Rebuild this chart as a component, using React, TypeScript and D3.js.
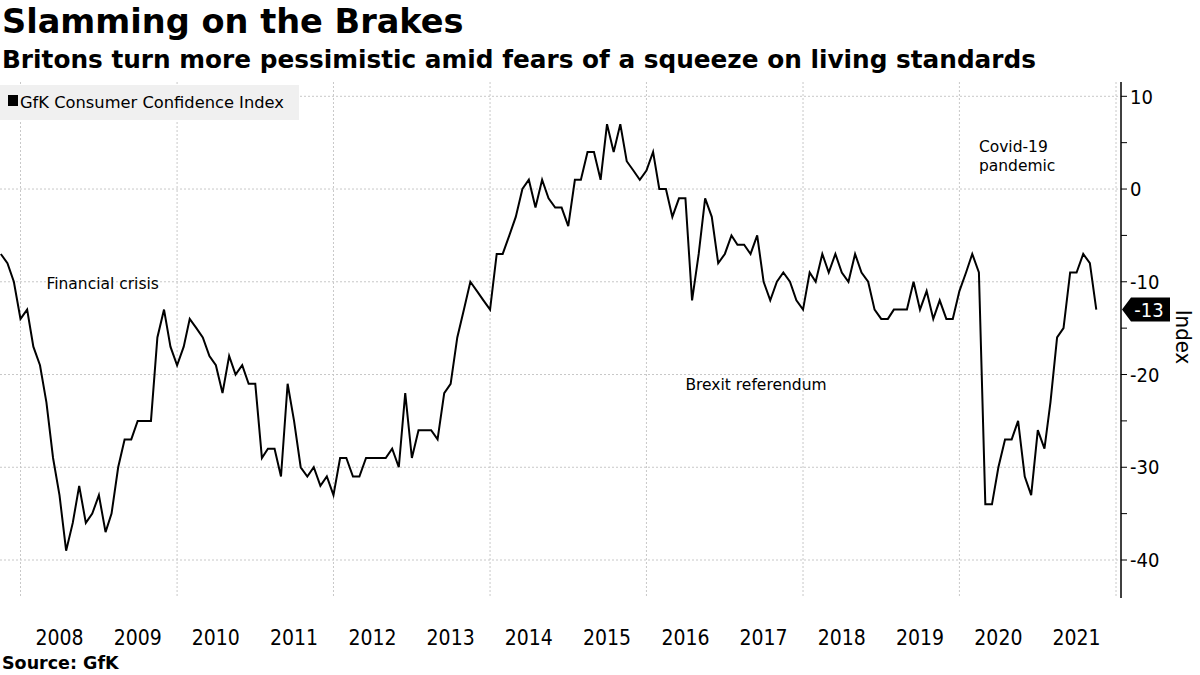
import React from 'react';
import * as d3 from 'd3';

// GfK Consumer Confidence Index, monthly (first value = Sep 2007)
const firstYear = 2007;
const firstMonth = 9; // September
const v2007 = [-7, -8, -10, -14];
const v2008 = [-13, -17, -19, -23, -29, -33, -39, -36, -32, -36, -35, -33];
const v2009 = [-37, -35, -30, -27, -27, -25, -25, -25, -16, -13, -17, -19];
const v2010 = [-17, -14, -15, -16, -18, -19, -22, -18, -20, -19, -21, -21];
const v2011 = [-29, -28, -28, -31, -21, -25, -30, -31, -30, -32, -31, -33];
const v2012 = [-29, -29, -31, -31, -29, -29, -29, -29, -28, -30, -22, -29];
const v2013 = [-26, -26, -26, -27, -22, -21, -16, -13, -10, -11, -12, -13];
const v2014 = [-7, -7, -5, -3, 0, 1, -2, 1, -1, -2, -2, -4];
const v2015 = [1, 1, 4, 4, 1, 7, 4, 7, 3, 2, 1, 2];
const v2016 = [4, 0, 0, -3, -1, -1, -12, -7, -1, -3, -8, -7];
const v2017 = [-5, -6, -6, -7, -5, -10, -12, -10, -9, -10, -12, -13];
const v2018 = [-9, -10, -7, -9, -7, -9, -10, -7, -9, -10, -13, -14];
const v2019 = [-14, -13, -13, -13, -10, -13, -11, -14, -12, -14, -14, -11];
const v2020 = [-9, -7, -9, -34, -34, -30, -27, -27, -25, -31, -33, -26];
const v2021 = [-28, -23, -16, -15, -9, -9, -7, -8, -13];

const allValues = [
  ...v2007, ...v2008, ...v2009, ...v2010, ...v2011, ...v2012, ...v2013,
  ...v2014, ...v2015, ...v2016, ...v2017, ...v2018, ...v2019, ...v2020, ...v2021,
];

const yearLabels = [2008, 2009, 2010, 2011, 2012, 2013, 2014, 2015, 2016, 2017, 2018, 2019, 2020, 2021];
const gridYears = [2008, 2010, 2012, 2014, 2016, 2018, 2020, 2022];
const yTicks = [10, 0, -10, -20, -30, -40];
const yMinorTicks = [5, -5, -15, -25, -35];

const annotations = [
  { text: 'Financial crisis', date: [2008, 4], value: -10.8, lines: ['Financial crisis'] },
  { text: 'Brexit referendum', date: [2016, 6], value: -21.7, lines: ['Brexit referendum'] },
  { text: 'Covid-19 pandemic', date: [2020, 3], value: 4.0, lines: ['Covid-19', 'pandemic'] },
];

const title = 'Slamming on the Brakes';
const subtitle = 'Britons turn more pessimistic amid fears of a squeeze on living standards';
const legendLabel = 'GfK Consumer Confidence Index';
const source = 'Source: GfK';
const axisTitle = 'Index';

const W = 1200;
const H = 675;
const condensed = "'DejaVu Sans Condensed', 'DejaVu Sans', sans-serif";
const regular = "'DejaVu Sans', sans-serif";
const bold = "'DejaVu Sans', sans-serif";

export default function App() {
  // points are plotted at the end of each month
  const data = allValues.map((v, i) => ({
    date: new Date(firstYear, firstMonth - 1 + i + 1, 1),
    value: v,
  }));

  const x = d3.scaleTime()
    .domain([new Date(2008, 0, 1), new Date(2022, 0, 1)])
    .range([20.5, 1116]);
  const y = d3.scaleLinear().domain([-40, 10]).range([560, 96.3]);

  const axisX = 1121;
  const plotTop = 82;
  const plotBottom = 598;

  const line = d3.line<{ date: Date; value: number }>()
    .x((d) => x(d.date))
    .y((d) => y(d.value));

  const last = data[data.length - 1];
  const ly = y(last.value);

  return (
    <svg
      width={W}
      height={H}
      style={{ position: 'absolute', left: 0, top: 0, background: '#fff' }}
      xmlns="http://www.w3.org/2000/svg"
    >
      <rect x={0} y={0} width={W} height={H} fill="#fff" />
      <text x={2} y={33} fontFamily={bold} fontWeight="bold" fontSize={33.6} fill="#000">
        {title}
      </text>
      <text x={2} y={68} fontFamily={bold} fontWeight="bold" fontSize={24} textLength={1034} lengthAdjust="spacingAndGlyphs" fill="#000">
        {subtitle}
      </text>

      {/* gridlines */}
      {yTicks.map((t) => (
        <line key={'hg' + t} x1={0} x2={axisX} y1={y(t)} y2={y(t)} stroke="#c8c8c8" strokeWidth={1} strokeDasharray="2,2" />
      ))}
      {gridYears.map((yr) => (
        <line key={'vg' + yr} x1={x(new Date(yr, 0, 1))} x2={x(new Date(yr, 0, 1))} y1={plotTop} y2={plotBottom} stroke="#c8c8c8" strokeWidth={1} strokeDasharray="2,2" />
      ))}

      {/* legend */}
      <rect x={0} y={85} width={299} height={35} fill="#f0f0f0" />
      <rect x={8} y={95} width={10} height={11} fill="#000" />
      <text x={20} y={108} fontFamily={regular} fontSize={16.3} fill="#000">
        {legendLabel}
      </text>

      {/* annotations */}
      {annotations.map((a) => (
        <text key={a.text} x={x(new Date(a.date[0], a.date[1], 1))} y={y(a.value)} fontFamily={regular} fontSize={15.5} fill="#000">
          {a.lines.map((l, i) => (
            <tspan key={l} x={x(new Date(a.date[0], a.date[1], 1))} dy={i === 0 ? 0 : 19}>{l}</tspan>
          ))}
        </text>
      ))}

      {/* series */}
      <path d={line(data) || ''} fill="none" stroke="#000" strokeWidth={2} strokeLinejoin="miter" />

      {/* right axis */}
      <line x1={axisX} x2={axisX} y1={plotTop} y2={plotBottom} stroke="#000" strokeWidth={1.5} />
      {[...yTicks, ...yMinorTicks].map((t) => (
        <line key={'tk' + t} x1={axisX} x2={axisX + 6} y1={y(t)} y2={y(t)} stroke="#000" strokeWidth={1} />
      ))}
      {yTicks.map((t) => (
        <text key={'tl' + t} x={1130} y={y(t)} dy="0.36em" fontFamily={condensed} fontSize={20} fill="#000">
          {t < 0 ? '-' + Math.abs(t) : String(t)}
        </text>
      ))}
      <text transform={`translate(1176,${337}) rotate(90)`} textAnchor="middle" fontFamily={condensed} fontSize={22} fill="#000">
        {axisTitle}
      </text>

      {/* last value tag */}
      <path d={`M${axisX + 1},${ly} L${axisX + 10},${ly - 12} L${1170},${ly - 12} L${1170},${ly + 12} L${axisX + 10},${ly + 12} Z`} fill="#000" />
      <text x={1149} y={ly} dy="0.36em" textAnchor="middle" fontFamily={condensed} fontSize={20} fill="#fff">
        {last.value < 0 ? '-' + Math.abs(last.value) : String(last.value)}
      </text>

      {/* x labels */}
      {yearLabels.map((yr) => (
        <text key={'xl' + yr} x={x(new Date(yr, 6, 1))} y={645} textAnchor="middle" fontFamily={condensed} fontSize={21} fill="#000">
          {yr}
        </text>
      ))}

      <text x={2} y={669} fontFamily={bold} fontWeight="bold" fontSize={17.5} fill="#000">
        {source}
      </text>
    </svg>
  );
}
